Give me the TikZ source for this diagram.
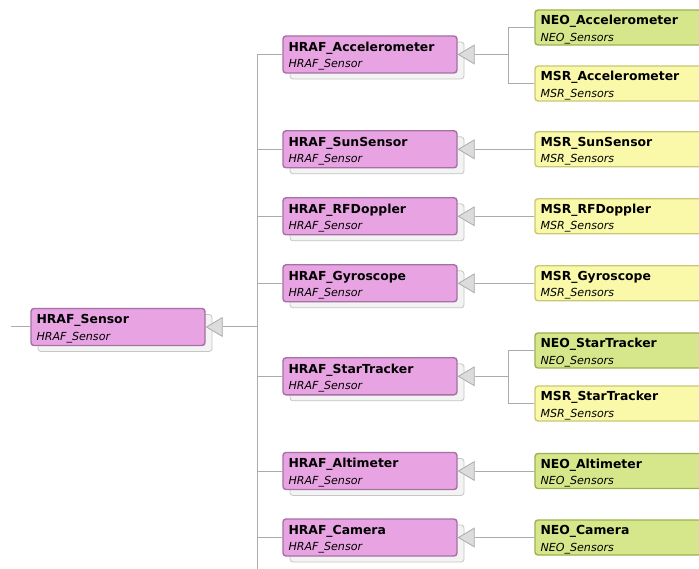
\documentclass[tikz,border=0pt]{standalone}
\usepackage{fontspec}
\setmainfont{DejaVu Sans}
\usetikzlibrary{arrows.meta,shadows,calc}
\definecolor{pinkfill}{HTML}{E8A4E2}
\definecolor{pinkdraw}{HTML}{A470A6}
\definecolor{greenfill}{HTML}{D5E68B}
\definecolor{greendraw}{HTML}{9EB14E}
\definecolor{yellowfill}{HTML}{F9F9A9}
\definecolor{yellowdraw}{HTML}{C9C872}
\definecolor{shfill}{HTML}{F3F3F3}
\definecolor{shdraw}{HTML}{C6C6C6}
\definecolor{linec}{HTML}{ABABAB}
\definecolor{trifill}{HTML}{DCDCDC}
\tikzset{
  basebox/.style={rectangle, rounded corners=3pt, line width=1.4pt, inner sep=0pt},
  pinkbox/.style={basebox, fill=pinkfill, draw=pinkdraw, minimum width=174pt, minimum height=37pt,
     copy shadow={shadow xshift=7pt, shadow yshift=-6pt, fill=shfill, draw=shdraw, line width=0.8pt}},
  greenbox/.style={basebox, fill=greenfill, draw=greendraw, minimum width=200pt, minimum height=35pt},
  yellowbox/.style={basebox, fill=yellowfill, draw=yellowdraw, minimum width=200pt, minimum height=35pt},
  titletxt/.style={anchor=base west, inner sep=0pt, font=\fontsize{12.4}{14}\selectfont\bfseries},
  subtxt/.style={anchor=base west, inner sep=0pt, font=\fontsize{11.1}{13}\selectfont\itshape},
  conn/.style={draw=linec, line width=1pt},
  gen/.style={conn, -{Triangle[length=17pt, width=20pt, fill=trifill, line width=0.8pt]}},
}
\newcommand\clsbox[7]{% name, style, x, y, title, sub, title offset
  \node[#2] (#1) at (#3,#4) {};
  \node[titletxt] (#1-t) at ($(#1.north west)+(6,#7)$) {#5};
  \node[subtxt] (#1-s) at ($(#1.north west)+(6,#7+16.3)$) {#6};
}
\begin{document}
\begin{tikzpicture}[x=1pt,y=-1pt]
\clip (0,0) rectangle (699,569);
\fill[white] (0,0) rectangle (699,569);
% trunk coordinates
\coordinate (lft) at (11,327);
\coordinate (trunk) at (257,327);
\coordinate (tbot) at (257,580);
% left box
\clsbox{sensor}{pinkbox}{118}{327}{HRAF\_Sensor}{HRAF\_Sensor}{16}
% middle column
\clsbox{acc}{pinkbox}{370}{54.5}{HRAF\_Accelerometer}{HRAF\_Sensor}{16}
\clsbox{sun}{pinkbox}{370}{149.3}{HRAF\_SunSensor}{HRAF\_Sensor}{16}
\clsbox{rfd}{pinkbox}{370}{216.3}{HRAF\_RFDoppler}{HRAF\_Sensor}{16}
\clsbox{gyr}{pinkbox}{370}{283.3}{HRAF\_Gyroscope}{HRAF\_Sensor}{16}
\clsbox{str}{pinkbox}{370}{376.3}{HRAF\_StarTracker}{HRAF\_Sensor}{16}
\clsbox{alt}{pinkbox}{370}{471}{HRAF\_Altimeter}{HRAF\_Sensor}{16}
\clsbox{cam}{pinkbox}{370}{537.5}{HRAF\_Camera}{HRAF\_Sensor}{16}
% right column
\clsbox{neoacc}{greenbox}{635}{27.5}{NEO\_Accelerometer}{NEO\_Sensors}{15.5}
\clsbox{msracc}{yellowbox}{635}{83.5}{MSR\_Accelerometer}{MSR\_Sensors}{15.5}
\clsbox{msrsun}{yellowbox}{635}{149.3}{MSR\_SunSensor}{MSR\_Sensors}{15.5}
\clsbox{msrrfd}{yellowbox}{635}{216.3}{MSR\_RFDoppler}{MSR\_Sensors}{15.5}
\clsbox{msrgyr}{yellowbox}{635}{283.3}{MSR\_Gyroscope}{MSR\_Sensors}{15.5}
\clsbox{neostr}{greenbox}{635}{350.5}{NEO\_StarTracker}{NEO\_Sensors}{15.5}
\clsbox{msrstr}{yellowbox}{635}{403.5}{MSR\_StarTracker}{MSR\_Sensors}{15.5}
\clsbox{neoalt}{greenbox}{635}{471}{NEO\_Altimeter}{NEO\_Sensors}{15.5}
\clsbox{neocam}{greenbox}{635}{537.5}{NEO\_Camera}{NEO\_Sensors}{15.5}
% junctions
\coordinate (jacc) at (508,54.5);
\coordinate (jstr) at (508,376.3);
% connectors on the left
\draw[conn] (lft) -- (sensor.west);
\draw[gen] (trunk) -- (sensor.east);
\draw[conn] (acc.west -| trunk) -- (tbot);
\foreach \n in {acc,sun,rfd,gyr,str,alt,cam}
  \draw[conn] (\n.west -| trunk) -- (\n.west);
% connectors on the right
\draw[conn] (neoacc.west) -| (jacc);
\draw[conn] (msracc.west) -| (jacc);
\draw[gen] (jacc) -- (acc.east);
\draw[gen] (msrsun.west) -- (sun.east);
\draw[gen] (msrrfd.west) -- (rfd.east);
\draw[gen] (msrgyr.west) -- (gyr.east);
\draw[conn] (neostr.west) -| (jstr);
\draw[conn] (msrstr.west) -| (jstr);
\draw[gen] (jstr) -- (str.east);
\draw[gen] (neoalt.west) -- (alt.east);
\draw[gen] (neocam.west) -- (cam.east);
\end{tikzpicture}
\end{document}
